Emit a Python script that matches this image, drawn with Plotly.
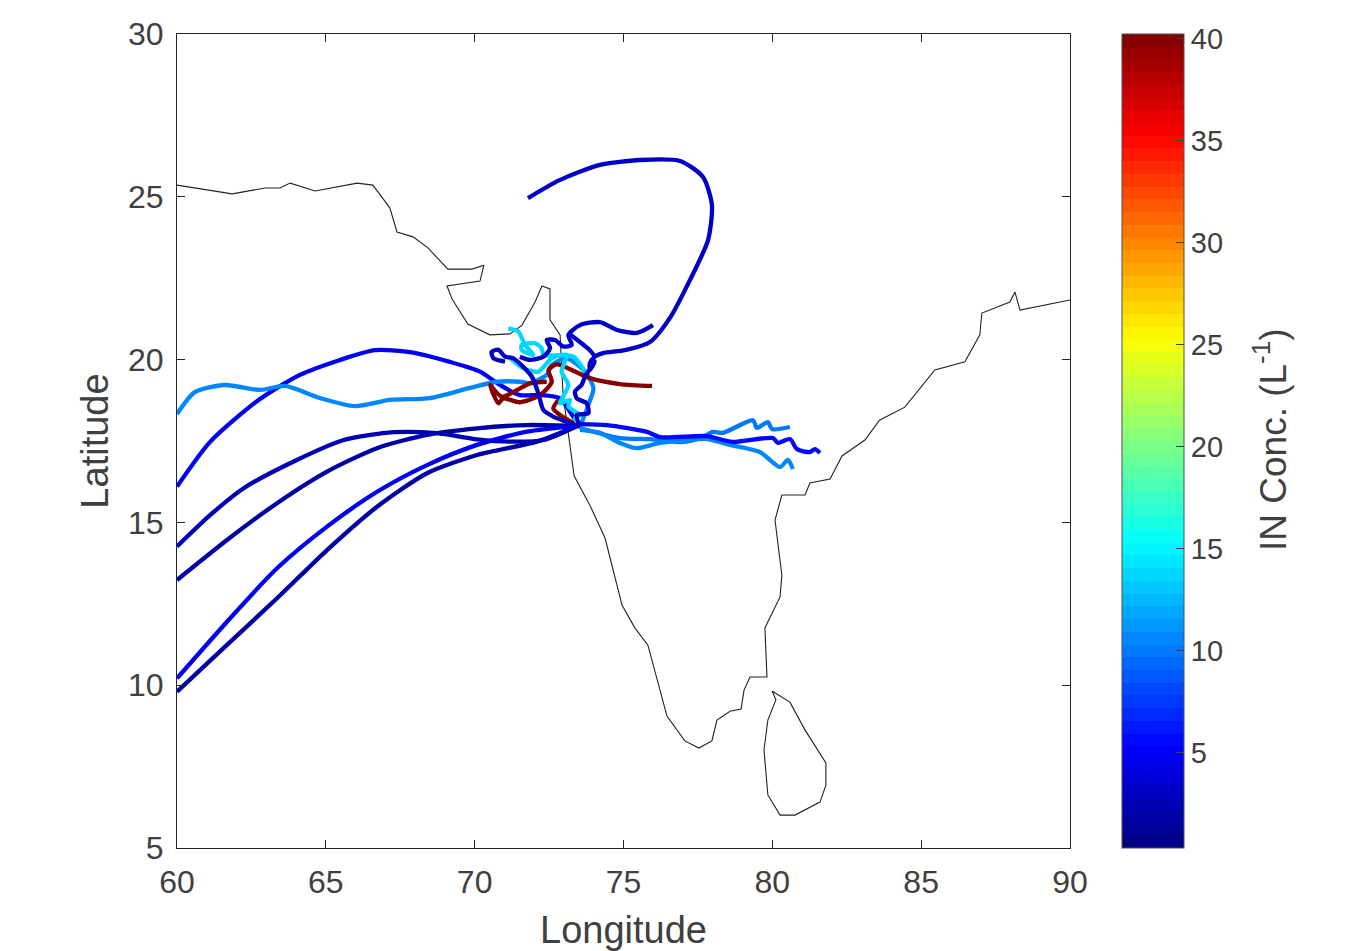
import plotly.graph_objects as go

# ---------- data ----------
coast_main_lon = [60,61.85,62.96,63.46,63.8,64.64,66.05,66.58,67.15,67.39,67.93,68.43,69.1,69.91,70.31,70.18,69.07,69.24,69.77,70.51,71.19,71.59,72.03,72.26,72.53,72.53,72.87,72.97,73.13,73.34,73.87,74.38,74.95,75.38,75.82,76.46,77.06,77.53,77.97,78.14,78.58,78.95,79.05,79.25,79.82,79.75,80.26,80.32,80.09,80.32,81.1,81.26,81.94,82.34,83.11,83.6,84.45,85.46,86.47,86.97,87.04,87.98,88.15,88.32,90]
coast_main_lat = [25.36,25.09,25.27,25.27,25.42,25.18,25.42,25.36,24.66,23.92,23.77,23.43,22.78,22.78,22.9,22.41,22.26,21.86,21.09,20.76,20.79,21.06,21.77,22.26,22.17,21.22,20.76,18.91,17.84,16.43,15.53,14.52,12.46,11.76,11.23,9.05,8.29,8.07,8.29,8.93,9.2,9.27,9.85,10.25,10.25,11.76,12.71,13.38,15.07,15.84,15.84,16.21,16.33,17.04,17.53,18.14,18.54,19.68,19.93,20.76,21.43,21.77,22.08,21.52,21.83]
lanka_lon = [79.99,80.59,81.1,81.8,81.8,81.6,80.76,80.26,79.85,79.72,79.85,80.12,79.99]
lanka_lat = [9.82,9.48,8.62,7.61,6.93,6.41,6.01,6.01,6.63,8.01,8.93,9.55,9.82]

a_lon = [60,61.68,63.36,65.04,66.72,68.40,70.08,72.09,73.44]
a_lat = [9.80,11.24,12.67,14.15,15.48,16.51,17.07,17.48,17.96]
b_lon = [60,61.68,63.36,65.04,66.72,68.40,70.08,71.76,73.44]
b_lat = [10.21,11.95,13.59,14.87,15.94,16.76,17.38,17.79,17.96]
c_lon = [60,61.68,63.36,65.04,66.72,68.40,70.08,71.76,73.44]
c_lat = [13.23,14.46,15.59,16.56,17.28,17.69,17.89,17.99,17.96]
d_lon = [60,61.12,62.24,63.92,65.60,67.28,68.73,70.08,71.20,72.32,73.44]
d_lat = [14.26,15.23,16.05,16.87,17.53,17.77,17.74,17.55,17.48,17.53,17.96]
e_lon = [60,61.12,62.74,64.13,65.48,66.65,67.83,69.17,70.18,70.85,71.52,72.2,72.87,73.2,73.54]
e_lat = [16.10,17.48,18.76,19.53,19.99,20.29,20.23,19.93,19.63,19.22,18.91,18.91,18.81,18.4,17.94]
f_lon = [60,60.60,61.61,62.79,63.63,64.80,65.98,67.15,68.50,69.84,70.74,71.52,71.86,72.42,72.59,73.09,73.71,73.99,73.82,73.54]
f_lat = [18.33,19.0,19.22,19.07,19.19,18.82,18.57,18.76,18.82,19.13,19.32,19.32,19.28,19.53,19.83,20.04,19.63,19.12,18.61,17.94]
m1_lon = [75.96,74.88,73.87,72.76,72.48,72.59,72.20,71.52,70.96,70.80,70.52,70.91,71.86,72.42]
m1_lat = [19.19,19.25,19.43,19.85,19.68,19.32,18.91,18.69,18.81,18.66,19.22,18.86,19.27,19.32]
m2_lon = [73.54,72.87,72.64,72.81]
m2_lat = [17.94,18.30,18.50,18.76]
cy1_lon = [71.13,71.47,71.69,71.97,71.58,71.58,72.03,72.25,72.31,72.87,73.32,73.71]
cy1_lat = [20.96,20.86,20.45,20.14,20.30,20.45,20.50,20.35,20.14,20.14,20.09,19.63]
cy2_lon = [71.13,71.64,72.14,72.59,73.09,72.92,73.15,72.87,73.20,73.15,73.54,73.37,73.54]
cy2_lat = [20.09,19.73,19.63,20.04,20.14,19.63,19.22,18.66,18.76,18.55,18.30,18.20,17.94]
g_lon = [75.99,75.45,74.78,74.21,73.54,73.15,73.26,72.98,72.70,72.42,72.53,72.31,71.86,71.52]
g_lat = [21.06,20.82,20.91,21.15,21.06,20.76,20.45,20.40,20.60,20.60,20.35,20.09,19.99,20.09]
s_lon = [73.15,73.87,74.04]
s_lat = [20.81,20.29,20.09]
h_lon = [73.54,72.64,72.31,72.14,71.92,71.3,71.02,70.80,70.57,70.63,71.02]
h_lat = [17.94,18.25,18.45,18.96,19.48,20.04,20.09,20.30,20.24,20.04,19.94]
t_lon = [71.79,72.87,74.21,75.55,76.90,77.67,77.97,77.84,77.23,76.56,75.89,75.05,74.31,74.04,73.87,73.87,74.04,73.71,73.59,73.37,73.43,73.76,73.82,73.43,73.54]
t_lat = [24.96,25.52,25.98,26.13,26.10,25.61,24.75,23.67,22.44,21.28,20.54,20.29,20.20,20.09,19.89,19.68,19.94,19.48,19.22,19.02,18.81,18.66,18.35,18.30,17.94]
e1_lon = [73.54,74.44,75.79,76.22,77.80,78.34,78.68,80.02,80.19,80.59,80.83,81.26,81.43,81.60]
e1_lat = [18.02,17.99,17.78,17.62,17.65,17.53,17.47,17.59,17.44,17.56,17.25,17.16,17.25,17.13]
e2_lon = [73.54,74.21,74.88,75.45,76.22,77.13,77.80,78.58,79.58,80.26,80.52,80.69]
e2_lat = [17.84,17.75,17.44,17.28,17.44,17.53,17.56,17.38,17.16,16.70,16.92,16.64]
e3_lon = [73.54,74.88,75.89,77.0,77.67,78.0,78.34,79.35,79.48,79.85,79.99,80.59]
e3_lat = [17.90,17.59,17.56,17.47,17.62,17.78,17.75,18.14,17.90,18.08,17.87,17.93]

trajectories = [
    (a_lon, a_lat, 1.8), (c_lon, c_lat, 1.8), (d_lon, d_lat, 2.2), (b_lon, b_lat, 5.0),
    (e_lon, e_lat, 4.8), (f_lon, f_lat, 10.5), (e3_lon, e3_lat, 10.0), (e2_lon, e2_lat, 10.5),
    (e1_lon, e1_lat, 5.5), (m1_lon, m1_lat, 40), (m2_lon, m2_lat, 40),
    (cy1_lon, cy1_lat, 14), (cy2_lon, cy2_lat, 14), (t_lon, t_lat, 3.2), (g_lon, g_lat, 3.4),
    (s_lon, s_lat, 3.4), (h_lon, h_lat, 3),
]
x_ticks = [60,65,70,75,80,85,90]
y_ticks = [5,10,15,20,25,30]
cbar_ticks = [5,10,15,20,25,30,35,40]
c_min, c_max = 0.32, 40.24

# ---------- colour map ----------
N = 64
def clip(v):
    return max(0.0, min(1.0, v))
def jet(t):
    return (clip(min(4*t-1.5, -4*t+4.5)), clip(min(4*t-0.5, -4*t+3.5)), clip(min(4*t+0.5, -4*t+2.5)))
def level_rgb(i):
    r, g, b = jet((i + 0.5) / N)
    return f"rgb({round(r*255)},{round(g*255)},{round(b*255)})"
levels = [level_rgb(i) for i in range(N)]
colorscale = []
for i, col in enumerate(levels):
    colorscale += [[i / N, col], [(i + 1) / N, col]]
def conc_colour(v):
    i = int((v - c_min) / (c_max - c_min) * N)
    return levels[max(0, min(N - 1, i))]

TXT = "#404040"
FONT = "Liberation Sans, Arial, sans-serif"
W, H = 1357, 951
L, R, T, B = 177, 1070, 34, 848
PW = R - L

fig = go.Figure()
for lo, la in [(coast_main_lon, coast_main_lat), (lanka_lon, lanka_lat)]:
    fig.add_trace(go.Scatter(x=lo, y=la, mode="lines", line=dict(color="#222222", width=1.1),
                             showlegend=False, hoverinfo="skip"))
for lo, la, v in trajectories:
    fig.add_trace(go.Scatter(x=lo, y=la, mode="lines", showlegend=False,
                             line=dict(color=conc_colour(v), width=4.3, shape="spline", smoothing=0.7)))
fig.add_trace(go.Scatter(
    x=[None, None], y=[None, None], mode="markers", showlegend=False, hoverinfo="skip",
    marker=dict(color=[c_min, c_max], cmin=c_min, cmax=c_max, colorscale=colorscale, showscale=True,
                colorbar=dict(x=(1122-L)/PW, xanchor="left", y=0, yanchor="bottom", lenmode="fraction", len=1,
                              thicknessmode="pixels", thickness=62, xpad=0, ypad=0,
                              outlinecolor="#505050", outlinewidth=1, borderwidth=0,
                              tickmode="array", tickvals=cbar_ticks, ticks="inside", ticklen=8,
                              tickcolor="#404040", tickwidth=1, tickprefix="\u2009",
                              tickfont=dict(size=29, color=TXT, family=FONT)))))
axis = dict(showgrid=False, zeroline=False, showline=True, linecolor="#262626", linewidth=1,
            mirror="allticks", ticks="inside", ticklen=8, tickcolor="#262626", tickwidth=1,
            ticklabelstandoff=6, tickfont=dict(size=32, color=TXT, family=FONT))
fig.update_layout(
    width=W, height=H, autosize=False, paper_bgcolor="white", plot_bgcolor="white",
    margin=dict(l=L, r=W-R, t=T, b=H-B, autoexpand=False),
    xaxis=dict(range=[60, 90], tickvals=x_ticks,
               title=dict(text="Longitude", standoff=18, font=dict(size=38, color=TXT, family=FONT)), **axis),
    yaxis=dict(range=[5, 30], tickvals=y_ticks,
               title=dict(text="Latitude", standoff=7, font=dict(size=38, color=TXT, family=FONT)), **axis),
    annotations=[dict(text="IN Conc. (L<sup>-1</sup>)", textangle=-90, showarrow=False,
                      xref="paper", yref="paper", x=(1271-L)/PW, y=(B-440)/(B-T), xanchor="center", yanchor="middle",
                      font=dict(size=37, color=TXT, family=FONT))],
)
fig.write_html("out.html", config={"displayModeBar": False},
               post_script="document.body.style.margin='0';document.body.style.overflow='hidden';")
